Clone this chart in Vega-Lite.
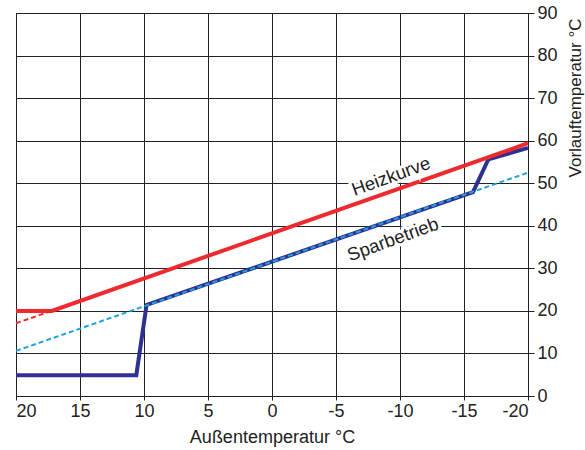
{
  "$schema": "https://vega.github.io/schema/vega-lite/v6.json",
  "width": 512,
  "height": 383,
  "autosize": "none",
  "padding": {"left": 16, "top": 13, "right": 57, "bottom": 54},
  "background": "white",
  "config": {
    "font": "Liberation Sans",
    "view": {"stroke": "#222", "strokeWidth": 1},
    "axis": {"gridColor": "#222", "gridOpacity": 1, "gridWidth": 1, "domainColor": "#222", "tickColor": "#222", "labelColor": "#222", "titleColor": "#222", "labelFont": "Liberation Sans", "titleFont": "Liberation Sans", "titleFontWeight": "normal"}
  },
  "datasets": {
    "lines": [
      {"series": "heiz", "t": 20, "v": 20},
      {"series": "heiz", "t": 17.2, "v": 20},
      {"series": "heiz", "t": -20, "v": 59.4},
      {"series": "heizdash", "t": 20, "v": 17.1},
      {"series": "heizdash", "t": 17.2, "v": 20},
      {"series": "spar", "t": 20, "v": 10.6},
      {"series": "spar", "t": -20, "v": 52.5},
      {"series": "ist", "t": 20, "v": 4.9},
      {"series": "ist", "t": 10.6, "v": 4.9},
      {"series": "ist", "t": 9.8, "v": 21.4},
      {"series": "ist", "t": -15.7, "v": 47.9},
      {"series": "ist", "t": -16.9, "v": 55.6},
      {"series": "ist", "t": -20, "v": 58.3}
    ],
    "labels": [
      {"label": "Heizkurve", "t": -9.3, "v": 51.6},
      {"label": "Sparbetrieb", "t": -9.45, "v": 36.8}
    ]
  },
  "layer": [
    {
      "data": {"name": "lines"},
      "transform": [{"filter": "datum.series === 'ist'"}],
      "mark": {"type": "line", "color": "#2e3192", "strokeWidth": 4, "strokeJoin": "miter"},
      "encoding": {
        "x": {"field": "t", "type": "quantitative", "scale": {"domain": [-20, 20], "reverse": true, "nice": false},
          "axis": {"values": [20, 15, 10, 5, 0, -5, -10, -15, -20], "labelExpr": "'' + datum.value", "labelFontSize": 18, "tickSize": 4, "labelPadding": 2, "title": "Außentemperatur °C", "titleFontSize": 18, "titlePadding": 8, "grid": true}},
        "y": {"field": "v", "type": "quantitative", "scale": {"domain": [0, 90], "nice": false},
          "axis": {"orient": "right", "values": [0, 10, 20, 30, 40, 50, 60, 70, 80, 90], "labelFontSize": 18, "tickSize": 6, "labelPadding": 3, "title": "Vorlauftemperatur °C", "titleFontSize": 17, "titleAngle": 270, "titleAlign": "right", "titleBaseline": "middle", "titleX": 47, "titleY": 5, "grid": true}}
      }
    },
    {
      "data": {"name": "lines"},
      "transform": [{"filter": "datum.series === 'spar'"}],
      "mark": {"type": "line", "color": "#1fa3e0", "strokeWidth": 2, "strokeDash": [5, 3]},
      "encoding": {"x": {"field": "t", "type": "quantitative"}, "y": {"field": "v", "type": "quantitative"}}
    },
    {
      "data": {"name": "lines"},
      "transform": [{"filter": "datum.series === 'heizdash'"}],
      "mark": {"type": "line", "color": "#ee2a2e", "strokeWidth": 2, "strokeDash": [5, 3]},
      "encoding": {"x": {"field": "t", "type": "quantitative"}, "y": {"field": "v", "type": "quantitative"}}
    },
    {
      "data": {"name": "lines"},
      "transform": [{"filter": "datum.series === 'heiz'"}],
      "mark": {"type": "line", "color": "#ee2a2e", "strokeWidth": 4},
      "encoding": {"x": {"field": "t", "type": "quantitative"}, "y": {"field": "v", "type": "quantitative"}}
    },
    {
      "data": {"name": "labels"},
      "mark": {"type": "text", "fontSize": 18.5, "angle": -20, "align": "center", "baseline": "middle", "stroke": "white", "strokeWidth": 6, "fill": "white"},
      "encoding": {"x": {"field": "t", "type": "quantitative"}, "y": {"field": "v", "type": "quantitative"}, "text": {"field": "label"}}
    },
    {
      "data": {"name": "labels"},
      "mark": {"type": "text", "fontSize": 18.5, "angle": -20, "align": "center", "baseline": "middle", "color": "#222"},
      "encoding": {"x": {"field": "t", "type": "quantitative"}, "y": {"field": "v", "type": "quantitative"}, "text": {"field": "label"}}
    }
  ]
}
